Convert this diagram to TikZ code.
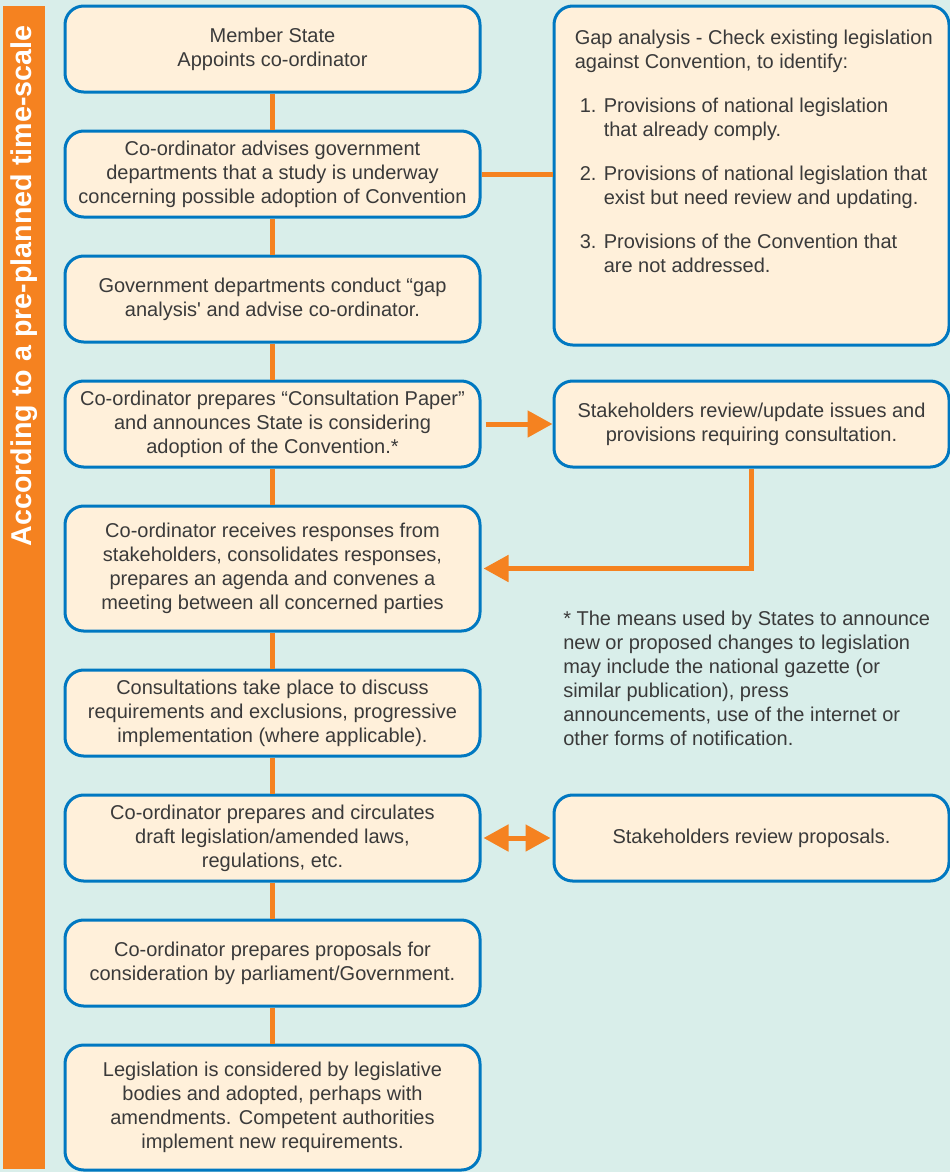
\documentclass[tikz,border=0pt]{standalone}
\usepackage{fontspec}
\setmainfont{Liberation Sans}
\usetikzlibrary{positioning,arrows.meta}

\definecolor{panelteal}{RGB}{217,238,234}
\definecolor{boxcream}{RGB}{255,240,218}
\definecolor{edgeblue}{RGB}{0,120,193}
\definecolor{linkorange}{RGB}{245,130,32}
\definecolor{inkgray}{RGB}{58,58,58}

\begin{document}
\begin{tikzpicture}[x=0.75pt, y=-0.75pt, node distance=27pt,
    leftbox/.style={draw=edgeblue, fill=boxcream, line width=2.25pt, rounded corners=14pt,
        minimum width=311.25pt, minimum height=64.5pt, align=center, text=inkgray,
        font=\fontsize{15}{18}\selectfont},
    tallbox/.style={leftbox, minimum height=93.75pt},
    rightbox/.style={leftbox, minimum width=296.25pt},
    plaintext/.style={inner sep=0pt, align=left, text=inkgray, font=\fontsize{15}{18}\selectfont},
    link/.style={color=linkorange, line width=3.75pt},
    >={Triangle[length=18.75pt, width=19.5pt]}]
    \useasboundingbox (0,0) rectangle (950,1172);
    \fill[panelteal] (0,0) rectangle (950,1172);
    \fill[linkorange] (3,6) rectangle (45,1169);
    \node[rotate=90, text=white, font=\fontsize{21.5}{25}\selectfont\bfseries] (timescale) at (24,286) {According to a pre-planned time-scale};

    % left column, top to bottom
    \node[leftbox] (member) at (272.5,49) {Member State\\Appoints co-ordinator};
    \node[leftbox, below=of member] (advise) {Co-ordinator advises government\\departments that a study is underway\\concerning possible adoption of Convention};
    \node[leftbox, below=of advise] (depts) {Government departments conduct “gap\\analysis\textquotesingle{} and advise co-ordinator.};
    \node[leftbox, below=of depts] (paper) {Co-ordinator prepares “Consultation Paper”\\and announces State is considering\\adoption of the Convention.*};
    \node[tallbox, below=of paper] (responses) {Co-ordinator receives responses from\\stakeholders, consolidates responses,\\prepares an agenda and convenes a\\meeting between all concerned parties};
    \node[leftbox, below=of responses] (consult) {Consultations take place to discuss\\requirements and exclusions, progressive\\implementation (where applicable).};
    \node[leftbox, below=of consult] (draft) {Co-ordinator prepares and circulates\\draft legislation/amended laws,\\regulations, etc.};
    \node[leftbox, below=of draft] (proposals) {Co-ordinator prepares proposals for\\consideration by parliament/Government.};
    \node[tallbox, below=of proposals] (adopted) {Legislation is considered by legislative\\bodies and adopted, perhaps with\\amendments. Competent authorities\\implement new requirements.};

    % right column
    \node[rightbox, right=53.25pt of paper] (stakeissues) {Stakeholders review/update issues and\\provisions requiring consultation.};
    \node[rightbox, right=53.25pt of draft] (stakereview) {Stakeholders review proposals.};
    \node[rightbox, minimum height=254.25pt, anchor=north west] (gap) at (stakeissues.west |- member.north) {};
    \node[plaintext, anchor=north west] (gaptext) at ([shift={(22,25)}]gap.north west)
        {Gap analysis - Check existing legislation\\
         against Convention, to identify:\\[15pt]
         \makebox[21.75pt][l]{\hspace*{3.75pt}1.}Provisions of national legislation\\
         \hspace*{21.75pt}that already comply.\\[15pt]
         \makebox[21.75pt][l]{\hspace*{3.75pt}2.}Provisions of national legislation that\\
         \hspace*{21.75pt}exist but need review and updating.\\[15pt]
         \makebox[21.75pt][l]{\hspace*{3.75pt}3.}Provisions of the Convention that\\
         \hspace*{21.75pt}are not addressed.};
    \node[plaintext, anchor=north west] (note) at (563,611)
        {* The means used by States to announce\\
         new or proposed changes to legislation\\
         may include the national gazette (or\\
         similar publication), press\\
         announcements, use of the internet or\\
         other forms of notification.};

    % connectors
    \foreach \a/\b in {member/advise, advise/depts, depts/paper, paper/responses,
        responses/consult, consult/draft, draft/proposals, proposals/adopted}
        \draw[link] (\a.south) -- (\b.north);
    \draw[link] (advise.east) -- (advise.east -| gap.west);
    \draw[link, ->, shorten <=3pt] (paper.east) -- (stakeissues.west);
    \draw[link, ->, shorten >=1.5pt] (stakeissues.south) -- (stakeissues.south |- responses.east) -- (responses.east);
    \draw[link, <->, shorten <=1.5pt, shorten >=1.5pt] (draft.east) -- (stakereview.west);
\end{tikzpicture}
\end{document}
